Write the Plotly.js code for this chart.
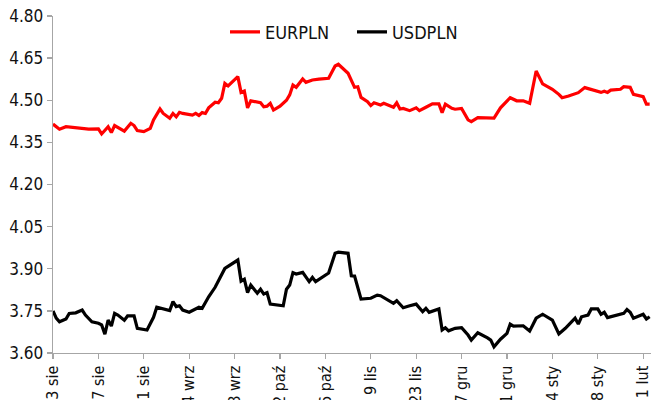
<!DOCTYPE html>
<html>
<head>
<meta charset="utf-8">
<script src="https://cdn.plot.ly/plotly-3.0.1.min.js"></script>
<style>html,body{margin:0;padding:0;background:#fff;}#chart{width:651px;height:400px;}</style>
</head>
<body>
<div id="chart"></div>
<script>
const eurDates = ["2020-08-03","2020-08-05","2020-08-07","2020-08-11","2020-08-14","2020-08-17","2020-08-18","2020-08-20","2020-08-21","2020-08-22","2020-08-25","2020-08-27","2020-08-28","2020-08-29","2020-08-31","2020-09-02","2020-09-03","2020-09-05","2020-09-06","2020-09-08","2020-09-09","2020-09-10","2020-09-11","2020-09-12","2020-09-15","2020-09-16","2020-09-17","2020-09-18","2020-09-19","2020-09-20","2020-09-22","2020-09-23","2020-09-24","2020-09-25","2020-09-26","2020-09-29","2020-09-30","2020-10-01","2020-10-02","2020-10-03","2020-10-06","2020-10-07","2020-10-08","2020-10-09","2020-10-10","2020-10-12","2020-10-14","2020-10-15","2020-10-16","2020-10-17","2020-10-19","2020-10-20","2020-10-22","2020-10-24","2020-10-27","2020-10-29","2020-10-30","2020-11-02","2020-11-04","2020-11-05","2020-11-06","2020-11-08","2020-11-09","2020-11-10","2020-11-12","2020-11-13","2020-11-16","2020-11-17","2020-11-18","2020-11-19","2020-11-21","2020-11-23","2020-11-24","2020-11-26","2020-11-28","2020-11-30","2020-12-01","2020-12-02","2020-12-04","2020-12-05","2020-12-07","2020-12-09","2020-12-10","2020-12-12","2020-12-16","2020-12-17","2020-12-19","2020-12-21","2020-12-22","2020-12-24","2020-12-26","2020-12-28","2020-12-30","2021-01-01","2021-01-04","2021-01-06","2021-01-07","2021-01-09","2021-01-12","2021-01-14","2021-01-19","2021-01-20","2021-01-21","2021-01-22","2021-01-25","2021-01-26","2021-01-28","2021-01-29","2021-02-01","2021-02-02","2021-02-03"];
const eurplnValues = [4.415,4.397,4.406,4.400,4.397,4.398,4.380,4.406,4.385,4.410,4.390,4.418,4.410,4.392,4.388,4.400,4.430,4.469,4.453,4.436,4.453,4.441,4.457,4.453,4.447,4.453,4.446,4.456,4.453,4.473,4.493,4.491,4.507,4.560,4.551,4.584,4.528,4.533,4.473,4.498,4.491,4.477,4.479,4.489,4.465,4.479,4.500,4.519,4.554,4.546,4.576,4.564,4.572,4.575,4.578,4.622,4.628,4.596,4.546,4.548,4.510,4.495,4.481,4.491,4.483,4.489,4.475,4.491,4.469,4.471,4.463,4.473,4.463,4.475,4.487,4.487,4.456,4.486,4.471,4.468,4.471,4.430,4.424,4.438,4.438,4.436,4.473,4.495,4.509,4.498,4.498,4.489,4.604,4.558,4.539,4.521,4.509,4.515,4.527,4.545,4.528,4.532,4.528,4.536,4.539,4.548,4.546,4.521,4.513,4.486,4.486];

const usdDates = ["2020-08-03","2020-08-04","2020-08-05","2020-08-07","2020-08-08","2020-08-10","2020-08-12","2020-08-13","2020-08-15","2020-08-17","2020-08-18","2020-08-19","2020-08-20","2020-08-21","2020-08-22","2020-08-23","2020-08-25","2020-08-26","2020-08-28","2020-08-29","2020-09-01","2020-09-03","2020-09-04","2020-09-08","2020-09-09","2020-09-10","2020-09-11","2020-09-12","2020-09-14","2020-09-16","2020-09-17","2020-09-18","2020-09-20","2020-09-22","2020-09-25","2020-09-29","2020-09-30","2020-10-01","2020-10-02","2020-10-03","2020-10-05","2020-10-06","2020-10-07","2020-10-08","2020-10-09","2020-10-13","2020-10-14","2020-10-15","2020-10-16","2020-10-17","2020-10-19","2020-10-21","2020-10-22","2020-10-23","2020-10-24","2020-10-27","2020-10-29","2020-10-30","2020-11-02","2020-11-03","2020-11-04","2020-11-06","2020-11-09","2020-11-11","2020-11-12","2020-11-14","2020-11-16","2020-11-17","2020-11-19","2020-11-21","2020-11-23","2020-11-25","2020-11-26","2020-11-27","2020-11-30","2020-12-01","2020-12-02","2020-12-03","2020-12-05","2020-12-07","2020-12-09","2020-12-10","2020-12-12","2020-12-15","2020-12-16","2020-12-17","2020-12-19","2020-12-21","2020-12-22","2020-12-23","2020-12-26","2020-12-28","2020-12-30","2021-01-01","2021-01-04","2021-01-06","2021-01-08","2021-01-11","2021-01-12","2021-01-13","2021-01-15","2021-01-16","2021-01-18","2021-01-19","2021-01-20","2021-01-21","2021-01-26","2021-01-27","2021-01-28","2021-01-29","2021-02-01","2021-02-02","2021-02-03"];
const usdplnValues = [3.750,3.724,3.711,3.721,3.741,3.743,3.753,3.735,3.711,3.706,3.700,3.667,3.717,3.696,3.741,3.735,3.717,3.732,3.732,3.688,3.682,3.727,3.763,3.751,3.783,3.765,3.768,3.753,3.745,3.759,3.763,3.759,3.800,3.834,3.901,3.931,3.856,3.863,3.815,3.842,3.813,3.827,3.810,3.815,3.774,3.768,3.827,3.842,3.886,3.881,3.887,3.854,3.869,3.854,3.862,3.885,3.955,3.959,3.955,3.875,3.874,3.792,3.795,3.806,3.804,3.789,3.777,3.786,3.761,3.768,3.774,3.747,3.759,3.745,3.757,3.682,3.690,3.679,3.688,3.690,3.664,3.646,3.672,3.654,3.646,3.622,3.649,3.670,3.703,3.696,3.697,3.678,3.724,3.738,3.717,3.668,3.688,3.724,3.703,3.729,3.735,3.757,3.757,3.738,3.745,3.726,3.741,3.755,3.745,3.724,3.738,3.721,3.729];

const tickDates = ["2020-08-03","2020-08-17","2020-08-31","2020-09-14","2020-09-28","2020-10-12","2020-10-26","2020-11-09","2020-11-23","2020-12-07","2020-12-21","2021-01-04","2021-01-18","2021-02-01"];
const tickLabels = ["3 sie","17 sie","31 sie","14 wrz","28 wrz","12 paź","26 paź","9 lis","23 lis","7 gru","21 gru","4 sty","18 sty","1 lut"];
const yTicks = [3.60,3.75,3.90,4.05,4.20,4.35,4.50,4.65,4.80];

const FONT = '"DejaVu Sans Condensed", "Liberation Sans Narrow", "Arial Narrow", sans-serif';

const traces = [
  {x: eurDates, y: eurplnValues, name: "EURPLN", type: "scatter", mode: "lines",
   line: {color: "#ff0000", width: 3.2}},
  {x: usdDates, y: usdplnValues, name: "USDPLN", type: "scatter", mode: "lines",
   line: {color: "#000000", width: 3.2}}
];

const layout = {
  width: 651, height: 400,
  margin: {l: 53, r: 0, t: 16, b: 47, pad: 0},
  paper_bgcolor: "#ffffff", plot_bgcolor: "#ffffff",
  font: {family: FONT, size: 17, color: "#111111"},
  showlegend: true,
  legend: {orientation: "h", x: 0.5, xanchor: "center", y: 0.952, yanchor: "middle",
           font: {family: FONT, size: 18, color: "#111111"}, bgcolor: "rgba(0,0,0,0)",
           itemwidth: 30, entrywidth: 82, entrywidthmode: "pixels", traceorder: "normal"},
  xaxis: {type: "date", range: ["2020-08-03", "2021-02-03 10:00"],
          tickmode: "array", tickvals: tickDates, ticktext: tickLabels, tickangle: -90,
          ticklabeloverflow: "allow",
          showgrid: false, zeroline: false, showline: true, linecolor: "#a6a6a6", linewidth: 1.3,
          ticks: "outside", ticklen: 5, tickcolor: "#a6a6a6", tickwidth: 1.3,
          tickfont: {family: FONT, size: 16, color: "#111111"}, fixedrange: true},
  yaxis: {range: [3.60, 4.80], tickmode: "array", tickvals: yTicks,
          ticktext: yTicks.map(v => v.toFixed(2)),
          showgrid: false, zeroline: false, showline: true, linecolor: "#a6a6a6", linewidth: 1.3,
          ticks: "outside", ticklen: 5, tickcolor: "#a6a6a6", tickwidth: 1.3,
          tickfont: {family: FONT, size: 17, color: "#111111"}, fixedrange: true}
};

Plotly.newPlot("chart", traces, layout, {displayModeBar: false, staticPlot: true});
</script>
</body>
</html>
